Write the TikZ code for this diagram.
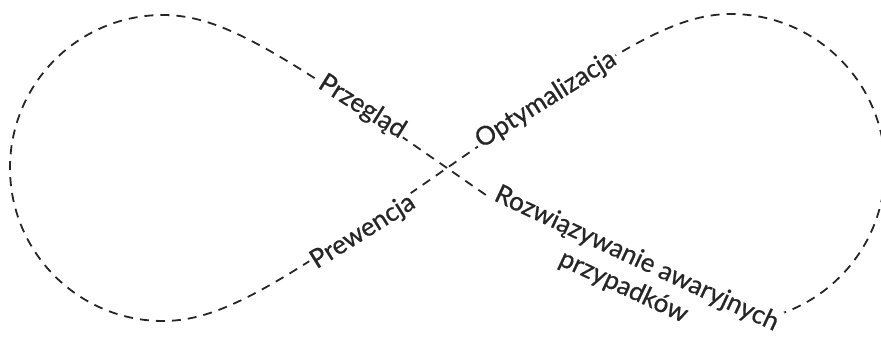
\documentclass[tikz,border=0pt]{standalone}
\usepackage{fontspec}
\setmainfont{Lato}
\newfontfamily\lblfont[FakeBold=0.6]{Lato}
\begin{document}
\begin{tikzpicture}[x=1pt,y=1pt,
  loopline/.style={draw=black!85, line width=1.8pt, dash pattern=on 9pt off 7pt},
  lbl/.style={fill=white, font=\lblfont\fontsize{26}{31}\selectfont, text=black!85, inner sep=2pt}]
\useasboundingbox (0,0) rectangle (881,340);
\coordinate (C) at (447,172);
\coordinate (TL) at (163,325);
\coordinate (TR) at (731,326);
\draw[loopline] (C) .. controls (283,286) and (223,325) .. (TL)
  arc[start angle=90,end angle=270,radius=153]
  .. controls (223,19) and (283,58) .. (C)
  .. controls (611,286) and (671,326) .. (TR)
  arc[start angle=90,end angle=-90,radius=154]
  .. controls (671,18) and (611,58) .. (C);
\node[lbl, rotate=-32] (prz) at (362,233) {Przegląd};
\node[lbl, rotate=32] (opt) at (546,240) {Optymalizacja};
\node[lbl, rotate=32] (pre) at (363,108) {Prewencja};
\node[lbl, rotate=-25, align=center] (roz) at (630,67) {Rozwiązywanie awaryjnych\\przypadków};
\end{tikzpicture}
\end{document}
